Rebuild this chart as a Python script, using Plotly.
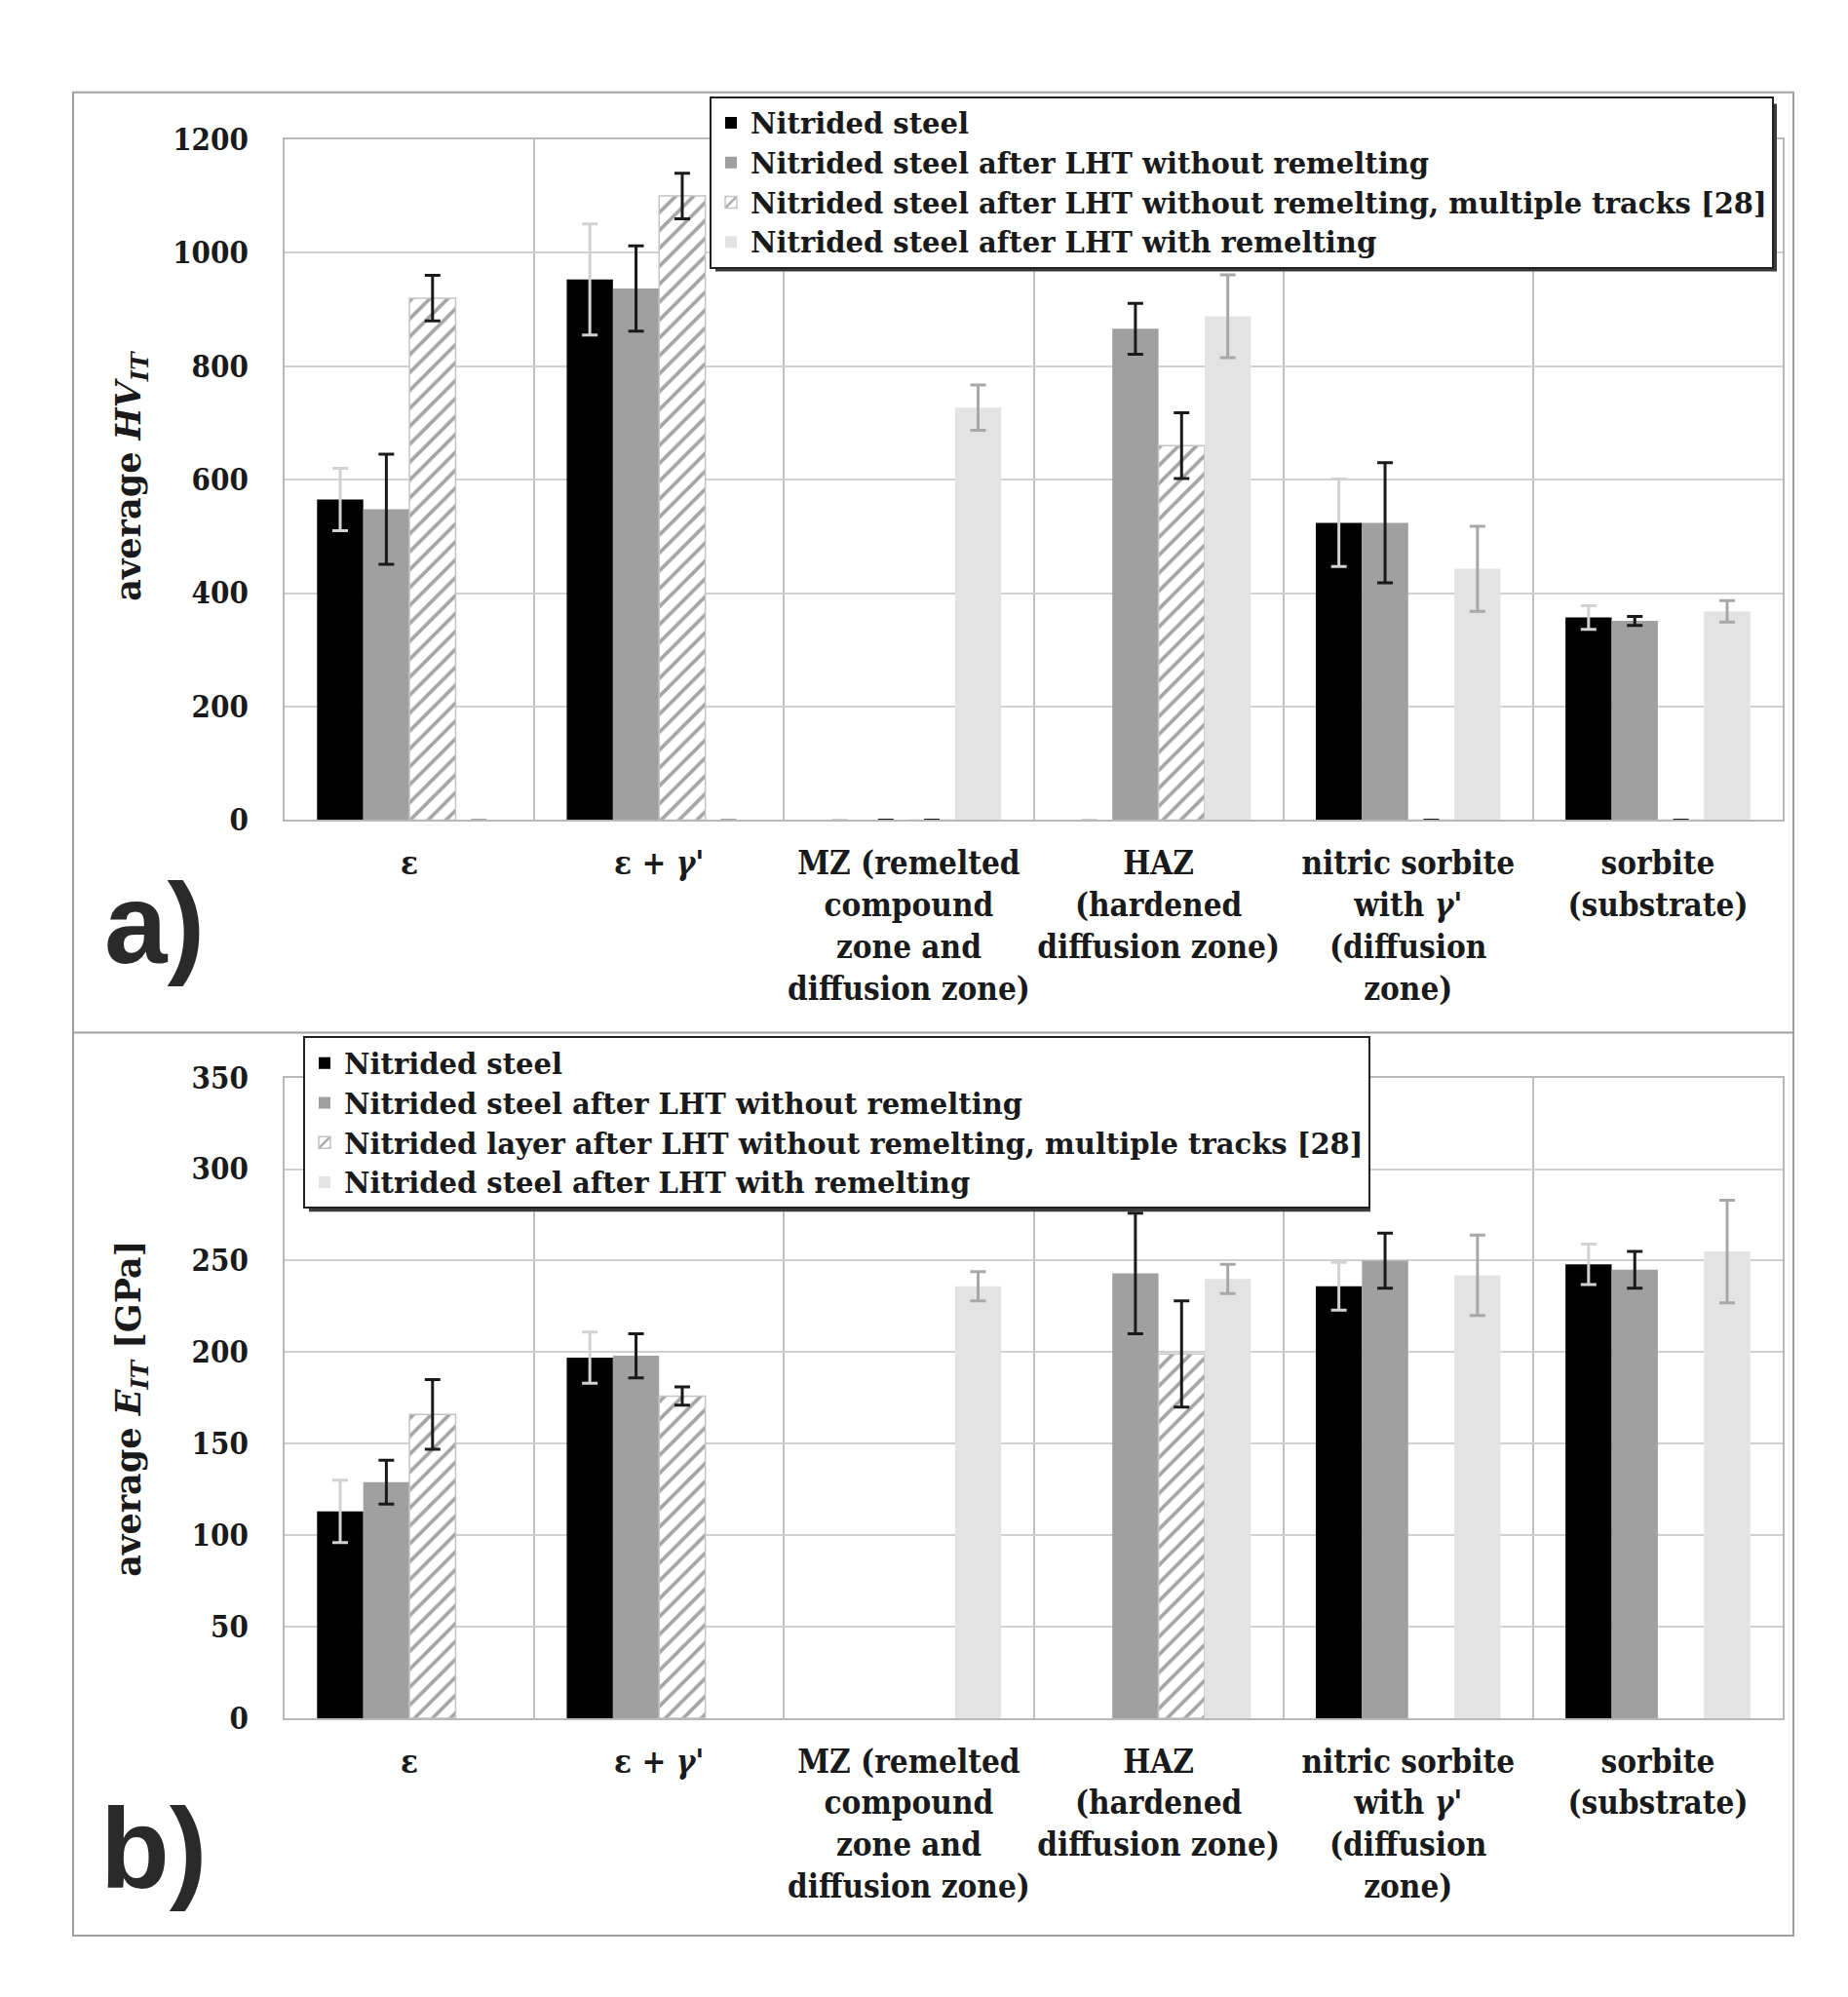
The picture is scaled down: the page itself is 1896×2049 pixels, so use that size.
import plotly.graph_objects as go

categories = [
    "ε",
    "ε + <i>γ</i>'",
    "MZ (remelted<br>compound<br>zone and<br>diffusion zone)",
    "HAZ<br>(hardened<br>diffusion zone)",
    "nitric sorbite<br>with <i>γ</i>'<br>(diffusion<br>zone)",
    "sorbite<br>(substrate)",
]

series_a = [
    "Nitrided steel",
    "Nitrided steel after LHT without remelting",
    "Nitrided steel after LHT without remelting, multiple tracks [28]",
    "Nitrided steel after LHT with remelting",
]
series_b = [
    "Nitrided steel",
    "Nitrided steel after LHT without remelting",
    "Nitrided layer after LHT without remelting, multiple tracks [28]",
    "Nitrided steel after LHT with remelting",
]

# Panel a) average HV_IT
hv_nitrided = [565, 953, 0, 0, 524, 357]
hv_nitrided_err = [55, 98, 0, 0, 77, 21]
hv_lht = [548, 937, 0, 866, 524, 351]
hv_lht_err = [97, 75, 0, 45, 106, 8]
hv_tracks = [920, 1100, 0, 660, 0, 0]
hv_tracks_err = [40, 40, 0, 58, 0, 0]
hv_remelt = [0, 0, 727, 888, 443, 368]
hv_remelt_err = [0, 0, 40, 73, 75, 19]

# Panel b) average E_IT [GPa]
e_nitrided = [113, 197, None, None, 236, 248]
e_nitrided_err = [17, 14, None, None, 13, 11]
e_lht = [129, 198, None, 243, 250, 245]
e_lht_err = [12, 12, None, 33, 15, 10]
e_tracks = [166, 176, None, 199, None, None]
e_tracks_err = [19, 5, None, 29, None, None]
e_remelt = [None, None, 236, 240, 242, 255]
e_remelt_err = [None, None, 8, 8, 22, 28]

hv_ticks = [0, 200, 400, 600, 800, 1000, 1200]
e_ticks = [0, 50, 100, 150, 200, 250, 300, 350]

W, H = 1896, 2049
SERIF = "DejaVu Serif"
SERIF_C = "DejaVu Serif Condensed, DejaVu Serif"

def px_x(v):
    return v / W

def px_y(v):
    return 1 - v / H

styles = [
    dict(color="#000000", err="#d2d2d2", pattern=None, line=dict(width=0)),
    dict(color="#a0a0a0", err="#1a1a1a", pattern=None, line=dict(width=0)),
    dict(color="#ffffff", err="#1a1a1a",
         pattern=dict(shape="/", fgcolor="#4a4a4a", bgcolor="#ffffff", size=13, solidity=0.28),
         line=dict(color="#c4c4c4", width=1.5)),
    dict(color="#e3e3e3", err="#a8a8a8", pattern=None, line=dict(width=0)),
]

xs = list(range(len(categories)))
fig = go.Figure()

data_a = [(hv_nitrided, hv_nitrided_err), (hv_lht, hv_lht_err),
          (hv_tracks, hv_tracks_err), (hv_remelt, hv_remelt_err)]
data_b = [(e_nitrided, e_nitrided_err), (e_lht, e_lht_err),
          (e_tracks, e_tracks_err), (e_remelt, e_remelt_err)]

for i, (vals, errs) in enumerate(data_a):
    st = styles[i]
    marker = dict(color=st["color"], line=st["line"])
    if st["pattern"]:
        marker["pattern"] = st["pattern"]
    fig.add_trace(go.Bar(
        x=xs, y=vals, name=series_a[i], marker=marker,
        error_y=dict(type="data", array=errs, visible=True, color=st["err"], thickness=3, width=8),
        xaxis="x", yaxis="y", legend="legend", offsetgroup=str(i),
    ))

for i, (vals, errs) in enumerate(data_b):
    st = styles[i]
    marker = dict(color=st["color"], line=st["line"])
    if st["pattern"]:
        marker["pattern"] = st["pattern"]
    fig.add_trace(go.Bar(
        x=xs, y=vals, name=series_b[i], marker=marker,
        error_y=dict(type="data", array=errs, visible=True, color=st["err"], thickness=3, width=8),
        xaxis="x2", yaxis="y2", legend="legend2", offsetgroup=str(i),
    ))

# layout positions (pixels)
FRAME_L, FRAME_R, FRAME_T, FRAME_B, SEP = 67, 1832, 70, 1995, 1052
PLOT_L, PLOT_R = 284, 1821
A_TOP, A_BOT = 119, 830
B_TOP, B_BOT = 1099, 1768
LEG_A = (720, 74)
LEG_B = (303, 1056)
LEG_W, LEG_H = 1091, 174

xdom = [px_x(PLOT_L), px_x(PLOT_R)]
grid = "#d0d0d0"
tickfont = dict(family=SERIF_C, size=31, color="#1a1a1a", weight=700)
catfont = dict(family=SERIF_C, size=33, color="#1a1a1a", weight=700)

xaxis_common = dict(
    range=[-0.5, 5.5], tickmode="array", tickvals=xs, ticktext=categories,
    tickangle=0,
    showgrid=False, zeroline=False, showline=True, mirror=True,
    linecolor="#b8b8b8", linewidth=2, ticks="", tickfont=catfont,
    ticklabelstandoff=14,
    minor=dict(tickvals=[0.5, 1.5, 2.5, 3.5, 4.5], showgrid=True, gridcolor="#c0c0c0", gridwidth=2, ticks=""),
    fixedrange=True,
)
yaxis_common = dict(
    showgrid=True, gridcolor=grid, gridwidth=2, zeroline=False,
    showline=True, mirror=True, linecolor="#b8b8b8", linewidth=2,
    ticks="", tickfont=tickfont, ticklabelstandoff=29, fixedrange=True,
)

legend_font = dict(family=SERIF, size=29, color="#1a1a1a", weight=700)

fig.update_layout(
    width=W, height=H,
    margin=dict(l=0, r=0, t=0, b=0),
    paper_bgcolor="white", plot_bgcolor="white",
    barmode="group", bargap=0.26, bargroupgap=0.0,
    xaxis=dict(domain=xdom, anchor="y", **xaxis_common),
    yaxis=dict(domain=[px_y(A_BOT), px_y(A_TOP)], anchor="x", range=[0, 1200],
               tickvals=hv_ticks, **yaxis_common),
    xaxis2=dict(domain=xdom, anchor="y2", **xaxis_common),
    yaxis2=dict(domain=[px_y(B_BOT), px_y(B_TOP)], anchor="x2", range=[0, 350],
                tickvals=e_ticks, **yaxis_common),
    legend=dict(x=px_x(LEG_A[0]), y=px_y(LEG_A[1]), xanchor="left", yanchor="top",
                bgcolor="white", bordercolor="#222222", borderwidth=2,
                font=legend_font, tracegroupgap=0, itemwidth=30,
                itemclick=False, itemdoubleclick=False),
    legend2=dict(x=px_x(LEG_B[0]), y=px_y(LEG_B[1]), xanchor="left", yanchor="top",
                 bgcolor="white", bordercolor="#222222", borderwidth=2,
                 font=legend_font, tracegroupgap=0, itemwidth=30,
                 itemclick=False, itemdoubleclick=False),
    showlegend=True,
)

# outer frame and panel separator
fig.add_shape(type="rect", xref="paper", yref="paper",
              x0=px_x(FRAME_L), x1=px_x(FRAME_R), y0=px_y(FRAME_B), y1=px_y(FRAME_T),
              line=dict(color="#a0a0a0", width=2), layer="below")
fig.add_shape(type="line", xref="paper", yref="paper",
              x0=px_x(FRAME_L), x1=px_x(FRAME_R), y0=px_y(SEP), y1=px_y(SEP),
              line=dict(color="#a0a0a0", width=2), layer="below")

# legend drop shadows (legend boxes are drawn on top of them)
for lx, ly in (LEG_A, LEG_B):
    fig.add_shape(type="rect", xref="paper", yref="paper",
                  x0=px_x(lx + 6), x1=px_x(lx + LEG_W + 4),
                  y0=px_y(ly + LEG_H + 9), y1=px_y(ly + 8),
                  line=dict(width=0), fillcolor="#3c3c3c", layer="above")

# y-axis titles
fig.add_annotation(xref="paper", yref="paper", x=px_x(126), y=px_y(470),
                   xanchor="center", yanchor="middle",
                   text="average <i>HV</i><sub><i>IT</i></sub>", textangle=-90,
                   showarrow=False, font=dict(family=SERIF, size=35, color="#1a1a1a", weight=700))
fig.add_annotation(xref="paper", yref="paper", x=px_x(126), y=px_y(1444),
                   xanchor="center", yanchor="middle",
                   text="average <i>E</i><sub><i>IT</i></sub> [GPa]", textangle=-90,
                   showarrow=False, font=dict(family=SERIF, size=35, color="#1a1a1a", weight=700))

# panel labels
fig.add_annotation(xref="paper", yref="paper", x=px_x(150), y=px_y(938),
                   xanchor="center", yanchor="middle",
                   text="a)", showarrow=False,
                   font=dict(family="Liberation Sans", size=116, color="#2a2a2a", weight=700))
fig.add_annotation(xref="paper", yref="paper", x=px_x(150), y=px_y(1904),
                   xanchor="center", yanchor="middle",
                   text="b)", showarrow=False,
                   font=dict(family="Liberation Sans", size=116, color="#2a2a2a", weight=700))

fig.write_html("out.html")
